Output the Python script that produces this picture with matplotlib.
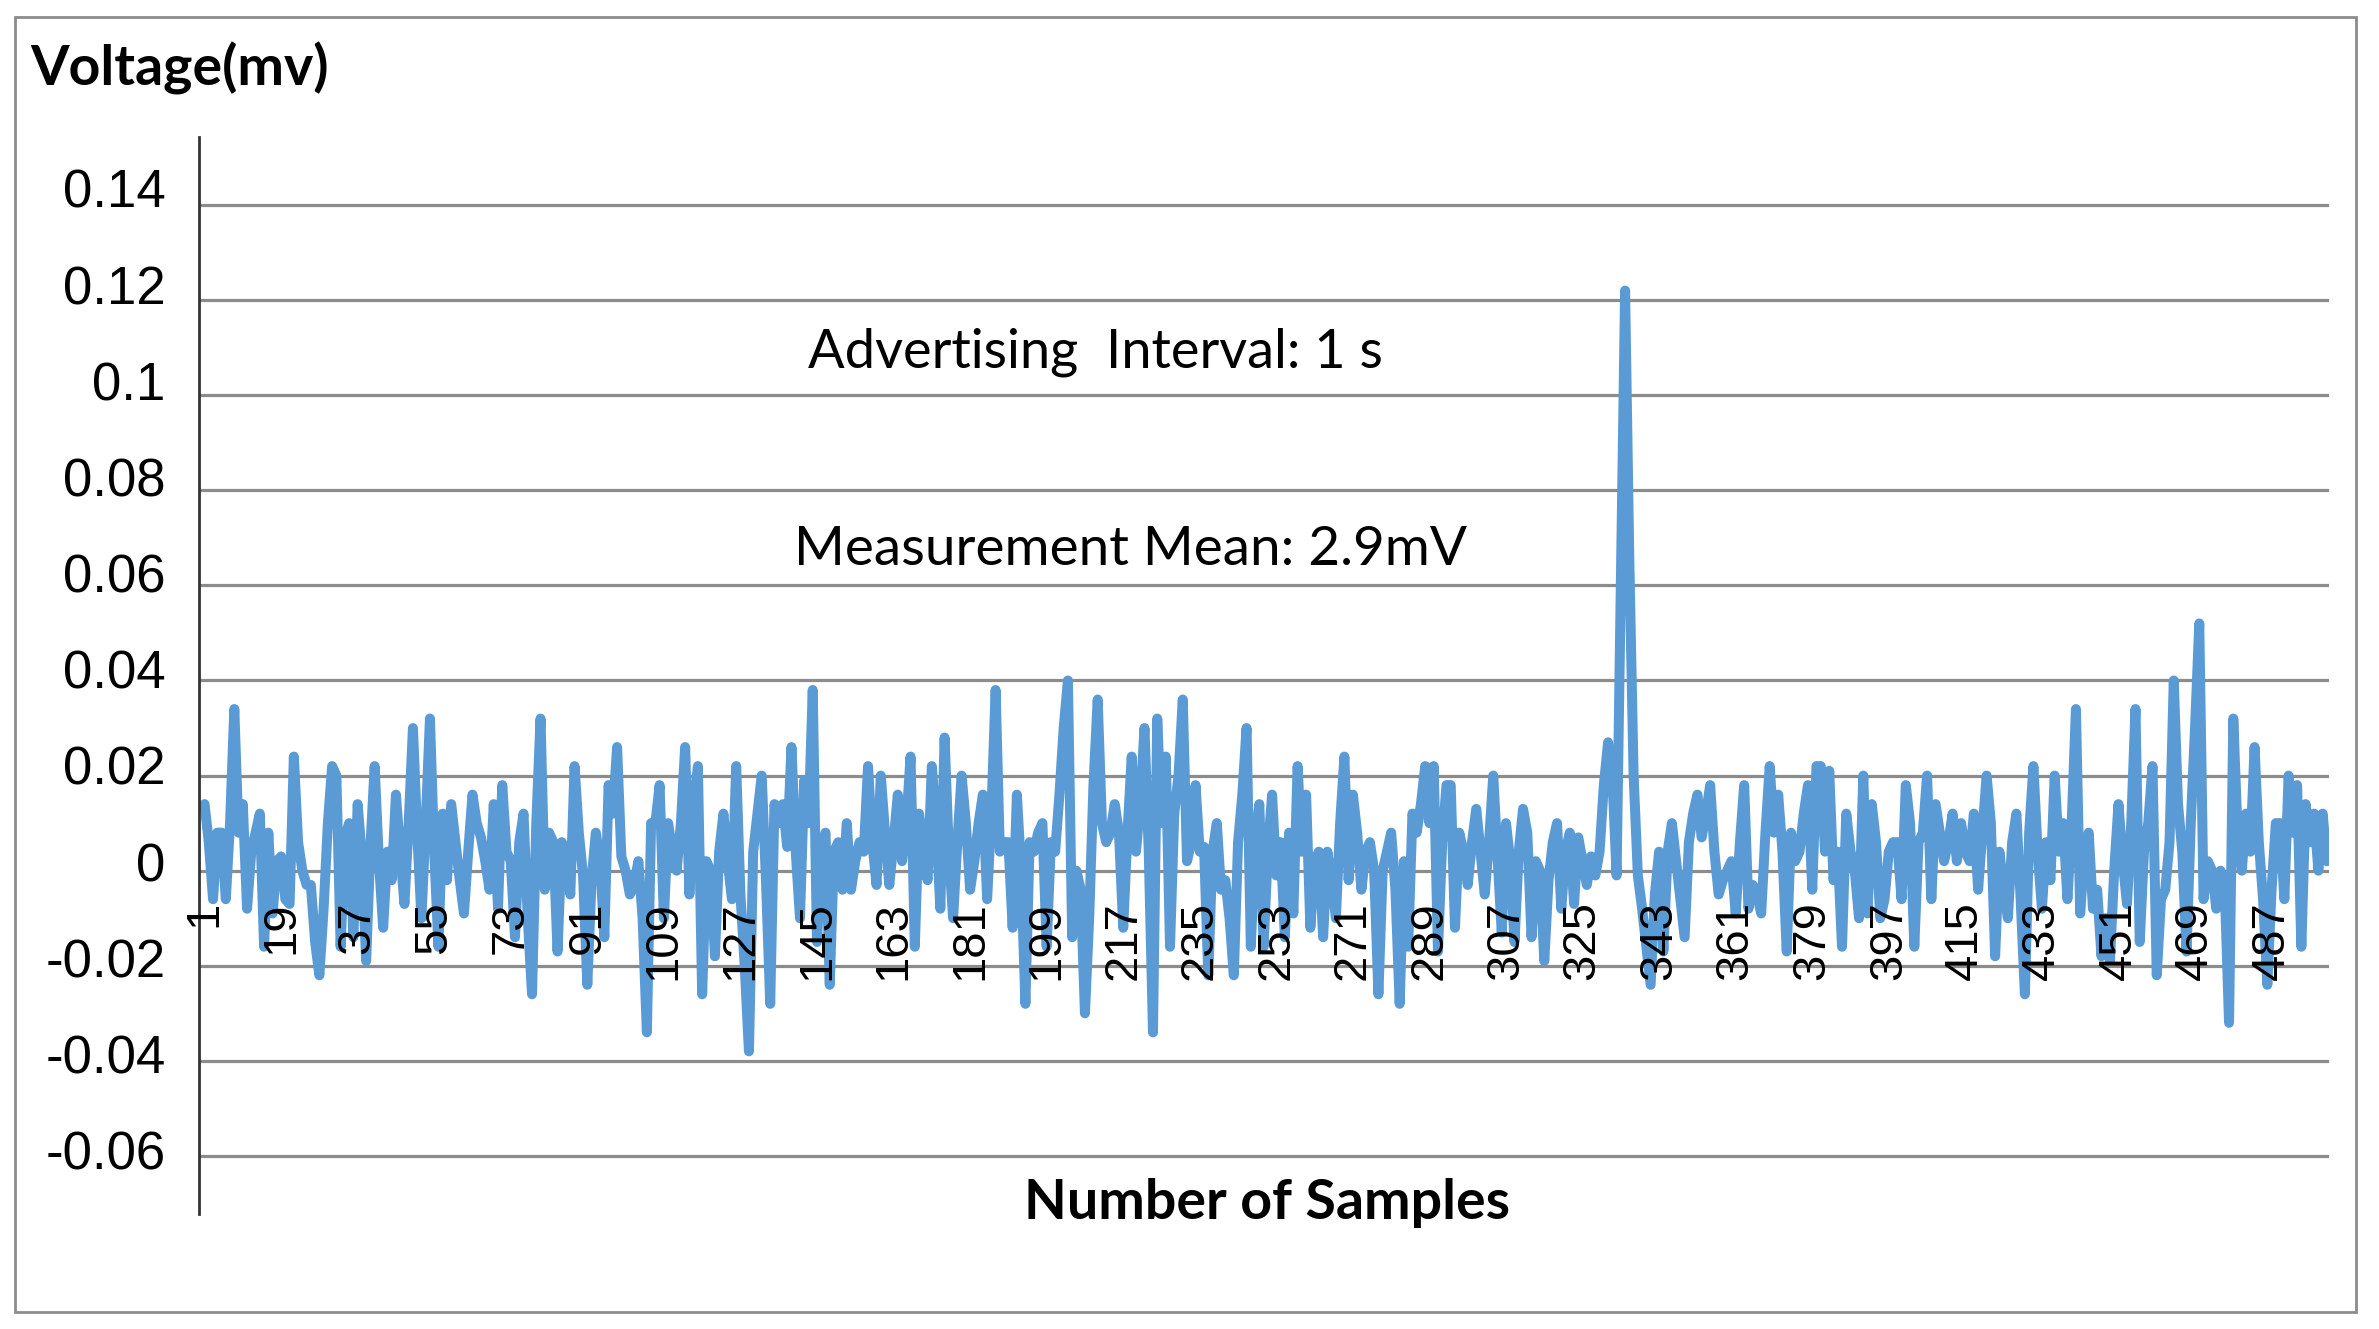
import numpy as np
import matplotlib
matplotlib.use("Agg")
import matplotlib.pyplot as plt
import matplotlib.transforms as mtransforms
from matplotlib.patches import Rectangle

# voltage readings, samples 1..500 (ten per row)
voltage = [
    0.014, 0.006, -0.006, 0.008, 0.008, -0.006, 0.010, 0.034, 0.008, 0.014,
    -0.008, 0.004, 0.008, 0.012, -0.016, 0.008, -0.009, 0.002, 0.003, -0.006,
    -0.007, 0.024, 0.006, 0.000, -0.003, -0.003, -0.015, -0.022, -0.008, 0.010,
    0.022, 0.020, -0.016, 0.007, 0.010, -0.014, 0.014, 0.003, -0.019, 0.005,
    0.022, 0.002, -0.012, 0.004, -0.002, 0.016, 0.004, -0.007, 0.010, 0.030,
    0.008, -0.010, 0.010, 0.032, 0.004, -0.016, 0.012, -0.002, 0.014, 0.006,
    -0.002, -0.009, 0.004, 0.016, 0.010, 0.007, 0.002, -0.004, 0.014, -0.008,
    0.018, 0.004, 0.002, -0.014, 0.006, 0.012, -0.010, -0.026, 0.010, 0.032,
    -0.004, 0.008, 0.006, -0.017, 0.006, 0.004, -0.005, 0.022, 0.008, -0.001,
    -0.024, -0.002, 0.008, 0.002, -0.014, 0.018, 0.012, 0.026, 0.003, 0.000,
    -0.005, -0.003, 0.002, -0.010, -0.034, 0.010, 0.010, 0.018, -0.010, 0.010,
    0.004, 0.000, 0.010, 0.026, -0.005, 0.014, 0.022, -0.026, 0.002, 0.000,
    -0.018, 0.004, 0.012, 0.002, -0.006, 0.022, -0.005, -0.020, -0.038, 0.004,
    0.012, 0.020, -0.002, -0.028, 0.014, 0.010, 0.014, 0.005, 0.026, 0.004,
    -0.010, 0.019, 0.010, 0.038, -0.015, 0.004, 0.008, -0.024, 0.004, 0.006,
    -0.004, 0.010, -0.004, 0.002, 0.006, 0.004, 0.022, 0.006, -0.003, 0.020,
    0.008, -0.003, 0.006, 0.016, 0.002, 0.010, 0.024, -0.016, 0.012, 0.004,
    -0.002, 0.022, 0.010, -0.008, 0.028, 0.004, -0.010, 0.006, 0.020, 0.010,
    -0.004, 0.002, 0.010, 0.016, -0.006, 0.012, 0.038, 0.004, 0.006, 0.006,
    -0.012, 0.016, 0.000, -0.028, 0.006, 0.004, 0.008, 0.010, -0.016, 0.006,
    0.004, 0.016, 0.030, 0.040, -0.014, 0.000, -0.004, -0.030, -0.010, 0.018,
    0.036, 0.010, 0.006, 0.008, 0.014, 0.008, -0.012, 0.008, 0.024, 0.004,
    0.014, 0.030, 0.004, -0.034, 0.032, 0.010, 0.024, -0.016, 0.012, 0.020,
    0.036, 0.002, 0.006, 0.018, 0.004, 0.005, -0.022, 0.004, 0.010, -0.004,
    -0.002, -0.010, -0.022, 0.006, 0.016, 0.030, -0.016, 0.006, 0.014, -0.016,
    0.004, 0.016, -0.001, 0.006, -0.014, 0.008, -0.009, 0.022, 0.004, 0.016,
    -0.012, 0.002, 0.004, -0.014, 0.004, -0.002, -0.010, 0.010, 0.024, -0.002,
    0.016, 0.008, -0.004, 0.004, 0.006, 0.000, -0.026, 0.000, 0.004, 0.008,
    -0.004, -0.028, 0.002, -0.016, 0.012, 0.008, 0.014, 0.022, 0.010, 0.022,
    -0.017, 0.006, 0.018, 0.018, -0.012, 0.008, 0.004, -0.003, 0.006, 0.013,
    0.004, -0.005, 0.006, 0.020, 0.003, -0.013, 0.010, 0.002, -0.015, 0.004,
    0.013, 0.008, -0.014, 0.002, 0.000, -0.019, -0.002, 0.006, 0.010, -0.008,
    0.004, 0.008, -0.007, 0.007, 0.002, -0.003, 0.003, -0.001, 0.004, 0.018,
    0.027, 0.020, -0.001, 0.060, 0.122, 0.065, 0.020, -0.001, -0.008, -0.016,
    -0.024, -0.005, 0.004, -0.017, 0.004, 0.010, 0.002, -0.006, -0.014, 0.006,
    0.012, 0.016, 0.007, 0.012, 0.018, 0.004, -0.005, -0.002, 0.000, 0.002,
    -0.009, 0.006, 0.018, -0.008, -0.003, -0.005, -0.009, 0.008, 0.022, 0.008,
    0.016, 0.004, -0.017, 0.008, 0.002, 0.004, 0.012, 0.018, -0.004, 0.022,
    0.022, 0.004, 0.021, -0.002, 0.004, -0.016, 0.012, 0.004, 0.000, -0.010,
    0.020, -0.009, 0.014, 0.006, -0.010, -0.006, 0.004, 0.006, 0.006, -0.006,
    0.018, 0.010, -0.016, 0.006, 0.008, 0.020, -0.006, 0.014, 0.008, 0.002,
    0.006, 0.012, 0.002, 0.010, 0.004, 0.002, 0.012, -0.004, 0.008, 0.020,
    0.010, -0.018, 0.004, -0.004, -0.010, 0.006, 0.012, -0.006, -0.026, 0.008,
    0.022, 0.004, -0.008, 0.006, -0.002, 0.020, 0.004, 0.010, -0.006, 0.010,
    0.034, -0.009, 0.004, 0.008, -0.008, -0.004, -0.018, -0.010, -0.019, 0.000,
    0.014, 0.002, -0.007, 0.010, 0.034, -0.015, 0.004, 0.010, 0.022, -0.022,
    -0.006, -0.004, 0.006, 0.040, 0.014, 0.004, -0.017, 0.010, 0.030, 0.052,
    -0.006, 0.002, 0.000, -0.008, 0.000, -0.004, -0.032, 0.032, 0.008, 0.000,
    0.012, 0.004, 0.026, 0.006, -0.006, -0.024, -0.004, 0.010, 0.010, -0.006,
    0.020, 0.008, 0.018, -0.016, 0.014, 0.006, 0.012, 0.000, 0.012, 0.002,
]
samples = np.arange(1, len(voltage) + 1)

x_ticks = list(range(1, 500, 18))
y_ticks = [-0.06, -0.04, -0.02, 0, 0.02, 0.04, 0.06, 0.08, 0.1, 0.12, 0.14]
y_labels = ["-0.06", "-0.04", "-0.02", "0", "0.02", "0.04", "0.06", "0.08", "0.1", "0.12", "0.14"]

W, H = 2379, 1329
fig = plt.figure(figsize=(W / 100, H / 100), dpi=100)

# outer chart border
fig.patches.append(Rectangle((15 / W, 17 / H), 2341 / W, 1295 / H, transform=fig.transFigure,
                             fill=False, edgecolor="#8c8c8c", linewidth=2))

ax = fig.add_axes([199 / W, 1 - 1214 / H, 2130 / W, 1077 / H])
ax.set_axisbelow(False)  # tick labels end up on top of the trace, like Excel

# gridlines under the trace
for yv in y_ticks:
    ax.axhline(yv, color="#8c8c8c", linewidth=2.3, zorder=1)

ax.plot(samples, voltage, color="#5b9bd5", linewidth=7.2, solid_joinstyle="round",
        solid_capstyle="round", zorder=2)

ax.set_xlim(-0.3, 500.5)
ax.set_ylim(-0.0722, 0.1543)

# category axis crosses at 0 (set before styling the labels, it resets the ticks)
ax.spines["bottom"].set_position(("data", 0))
for s in ["top", "right", "bottom"]:
    ax.spines[s].set_visible(False)
ax.spines["left"].set_color("#333333")
ax.spines["left"].set_linewidth(2)

ax.set_yticks(y_ticks)
ax.set_yticklabels(y_labels, family="Liberation Sans", fontsize=38)
ax.set_xticks(x_ticks)
ax.set_xticklabels([str(t) for t in x_ticks], rotation=90, family="Liberation Sans", fontsize=34)
ax.tick_params(axis="y", length=0, pad=24)
ax.tick_params(axis="x", length=0, pad=22)

# y labels drift a little above their gridlines towards the top in the original
for i, lab in enumerate(ax.get_yticklabels()):
    dy = (6 + 10.5 * i / 10) / 100
    lab.set_transform(lab.get_transform() + mtransforms.ScaledTranslation(0, dy, fig.dpi_scale_trans))

fig.text(30 / W, 1 - 68 / H, "Voltage(mv)", family="Lato", fontweight="bold", fontsize=40,
         ha="left", va="center")
fig.text(1095 / W, 1 - 352 / H, "Advertising  Interval: 1 s", family="Lato", fontsize=39,
         ha="center", va="center")
fig.text(1130 / W, 1 - 549 / H, "Measurement Mean: 2.9mV", family="Lato", fontsize=39.5,
         ha="center", va="center")
fig.text(1267 / W, 1 - 1203 / H, "Number of Samples", family="Lato", fontweight="bold", fontsize=40,
         ha="center", va="center")

fig.savefig("out.png", dpi=100)
